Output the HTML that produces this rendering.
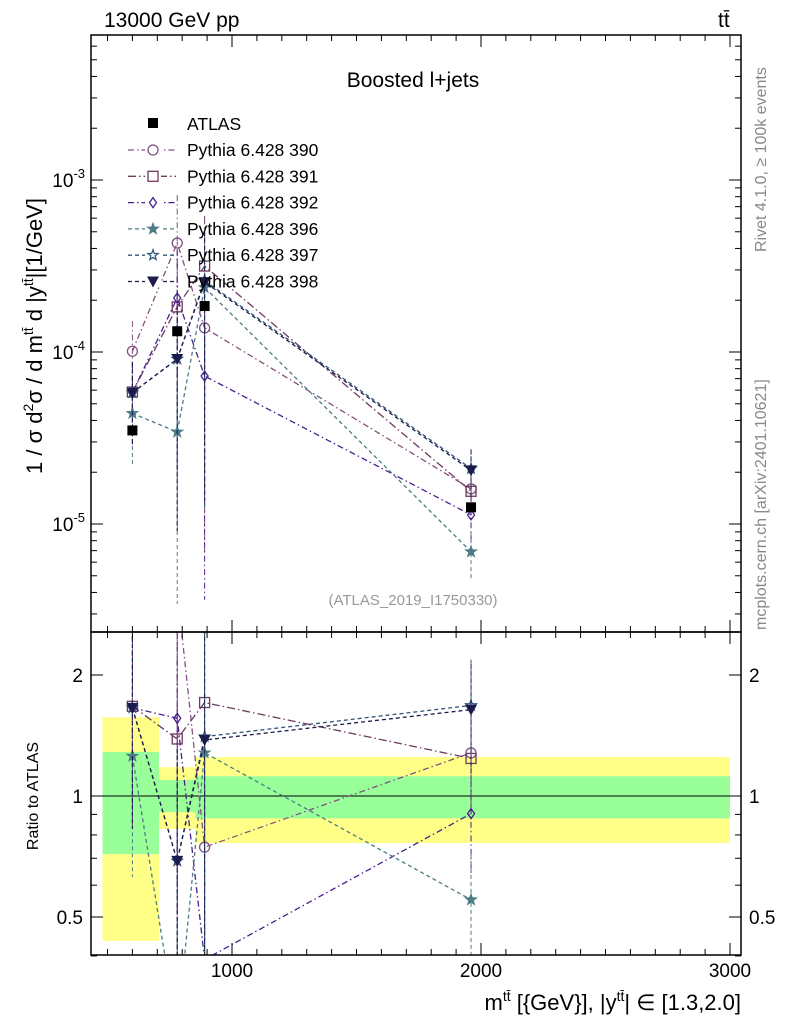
<!DOCTYPE html>
<html><head><meta charset="utf-8"><style>
html,body{margin:0;background:#fff;overflow:hidden;width:786px;height:1024px;}
svg{display:block;font-family:"Liberation Sans",sans-serif;}
</style></head><body>
<svg id="c" width="786" height="1024" viewBox="0 0 786 1024" xmlns="http://www.w3.org/2000/svg">
<g id="bands"></g>
<g id="ratio"></g>
<g id="main"></g>
<g id="axes"></g>
<text x="104" y="27" font-size="21">13000 GeV pp</text>
<text x="718" y="27" font-size="21">tt̄</text>
<text x="413" y="87" font-size="21" text-anchor="middle">Boosted l+jets</text>
<text x="413" y="605" font-size="15" fill="#999" text-anchor="middle">(ATLAS_2019_I1750330)</text>
<text transform="translate(766,252) rotate(-90)" font-size="16" fill="#888">Rivet 4.1.0, ≥ 100k events</text>
<text transform="translate(766,630) rotate(-90)" font-size="16" fill="#888">mcplots.cern.ch [arXiv:2401.10621]</text>
<text transform="translate(42,336) rotate(-90)" font-size="22" text-anchor="middle">1 / σ d<tspan font-size="14" dy="-9">2</tspan><tspan dy="9">σ / d m</tspan><tspan font-size="14" dy="-9">tt̄</tspan><tspan dy="9"> d |y</tspan><tspan font-size="14" dy="-9">tt̄</tspan><tspan dy="9">|[1/GeV]</tspan></text>
<text transform="translate(38,796) rotate(-90)" font-size="16" text-anchor="middle">Ratio to ATLAS</text>
<text x="741" y="1010" font-size="22" text-anchor="end">m<tspan font-size="14" dy="-9">tt̄</tspan><tspan dy="9"> [{GeV}], |y</tspan><tspan font-size="14" dy="-9">tt̄</tspan><tspan dy="9">| ∈ [1.3,2.0]</tspan></text>
</svg>
<script>
const xs=[600,780,890,1960];
const binLo=[480,707,852];
const binHi=[707,852,3000];
const atlas=[3.5e-5,1.32e-4,1.85e-4,1.25e-5];
const yellowUp=[1.57,1.18,1.25];
const yellowDn=[0.436,0.828,0.764];
const greenUp=[1.287,1.096,1.12];
const greenDn=[0.717,0.912,0.88];
const s390=[1.01e-4,4.3e-4,1.38e-4,1.6e-5];
const s391=[5.85e-5,1.83e-4,3.16e-4,1.55e-5];
const s392=[5.8e-5,2.06e-4,7.25e-5,1.13e-5];
const s396=[4.4e-5,3.43e-5,2.37e-4,6.9e-6];
const s397=[5.8e-5,9.1e-5,2.6e-4,2.1e-5];
const s398=[5.8e-5,9.1e-5,2.55e-4,2.05e-5];
const relErr=[0.5,0.9,0.95,0.3];
const names=["Pythia 6.428 390","Pythia 6.428 391","Pythia 6.428 392","Pythia 6.428 396","Pythia 6.428 397","Pythia 6.428 398"];
const series=[s390,s391,s392,s396,s397,s398];
const colors=["#83507f","#6e3a5e","#4a1f8c","#4c7c84","#2f5478","#1c1c4c"];
const dashes=["6,3,1.5,3","8,3,1.5,3","6,3,1.5,3","4,3","4,3","4,3"];
const markers=["circle","square","diamond","star","ostar","tri"];

const L=91,R=741,T=35,B=632,RT=632,RB=955;
const X=v=>232+(v-1000)*0.249;
const Y=v=>180-(Math.log10(v)+3)*172;
const YR=r=>796-Math.log2(r)*121;
const NS="http://www.w3.org/2000/svg";
function mk(tag,attrs,parent){const e=document.createElementNS(NS,tag);for(const k in attrs)e.setAttribute(k,attrs[k]);parent.appendChild(e);return e;}
const svg=document.getElementById('c');
const defs=mk('defs',{},svg);
const cp1=mk('clipPath',{id:'cm'},defs);mk('rect',{x:L,y:T,width:R-L,height:B-T},cp1);
const cp2=mk('clipPath',{id:'cr'},defs);mk('rect',{x:L,y:RT,width:R-L,height:RB-RT},cp2);
const bands=document.getElementById('bands');
for(let i=0;i<binLo.length;i++){
  const y=mk('rect',{x:X(binLo[i]),y:YR(yellowUp[i]),width:X(binHi[i])-X(binLo[i]),height:YR(yellowDn[i])-YR(yellowUp[i]),fill:'#ffff88'},bands);
  
  
  const g=mk('rect',{x:X(binLo[i]),y:YR(greenUp[i]),width:X(binHi[i])-X(binLo[i]),height:YR(greenDn[i])-YR(greenUp[i]),fill:'#99ff99'},bands);
  
  
}
function marker(type,x,y,col,parent){
  let e;const s=5;
  if(type==='circle')e=mk('circle',{cx:x,cy:y,r:s,fill:'none',stroke:col,'stroke-width':1.3},parent);
  else if(type==='square')e=mk('rect',{x:x-s,y:y-s,width:2*s,height:2*s,fill:'none',stroke:col,'stroke-width':1.3},parent);
  else if(type==='diamond')e=mk('polygon',{points:`${x},${y-s} ${x+3.5},${y} ${x},${y+s} ${x-3.5},${y}`,fill:'none',stroke:col,'stroke-width':1.3},parent);
  else if(type==='tri')e=mk('polygon',{points:`${x-6},${y-5} ${x+6},${y-5} ${x},${y+6}`,fill:col},parent);
  else {let p=[];for(let k=0;k<10;k++){const a=-Math.PI/2+k*Math.PI/5,r=k%2?2.2:5.5;p.push((x+r*Math.cos(a)).toFixed(1)+','+(y+r*Math.sin(a)).toFixed(1));}
    e=mk('polygon',{points:p.join(' '),fill:type==='star'?col:'none',stroke:col,'stroke-width':1.2},parent);}
  return e;
}
const main=document.getElementById('main');
const mg=mk('g',{'clip-path':'url(#cm)'},main);
const ratio=document.getElementById('ratio');
mk('line',{x1:L,x2:R,y1:YR(1),y2:YR(1),stroke:'#000','stroke-width':1},ratio);
const rg=mk('g',{'clip-path':'url(#cr)'},ratio);
series.forEach((s,si)=>{
  const col=colors[si];
  const pl=mk('polyline',{points:s.map((v,i)=>X(xs[i])+','+Y(v)).join(' '),fill:'none',stroke:col,'stroke-width':1.3,'stroke-dasharray':dashes[si]},mg);
  
  
  const rl=mk('polyline',{points:s.map((v,i)=>X(xs[i])+','+YR(v/atlas[i])).join(' '),fill:'none',stroke:col,'stroke-width':1.3,'stroke-dasharray':dashes[si]},rg);
  
  
  s.forEach((v,i)=>{
    const e=relErr[i];
    mk('line',{x1:X(xs[i]),x2:X(xs[i]),y1:Y(v*(1+e)),y2:Y(Math.max(v*(1-e),1e-7)),stroke:col,'stroke-width':1,'stroke-dasharray':dashes[si]},mg);
    mk('line',{x1:X(xs[i]),x2:X(xs[i]),y1:YR(v*(1+e)/atlas[i]),y2:YR(Math.max(v*(1-e),1e-7)/atlas[i]),stroke:col,'stroke-width':1,'stroke-dasharray':dashes[si]},rg);
    const m=marker(markers[si],X(xs[i]),Y(v),col,mg);
    
    
    const rm=marker(markers[si],X(xs[i]),YR(v/atlas[i]),col,rg);
    
    
  });
});
atlas.forEach((v,i)=>{
  const r=mk('rect',{x:X(xs[i])-5,y:Y(v)-5,width:10,height:10,fill:'#000'},mg);
  
  
});
const lg=mk('g',{},main);


mk('rect',{x:148,y:118,width:10,height:10,fill:'#000'},lg);
const at=mk('text',{x:187,y:130,'font-size':17.5},lg);at.textContent='ATLAS';
names.forEach((n,i)=>{
  const y=150+i*26.3;
  mk('line',{x1:128,x2:176,y1:y,y2:y,stroke:colors[i],'stroke-width':1.3,'stroke-dasharray':dashes[i]},lg);
  mk('rect',{x:145,y:y-6,width:16,height:12,fill:'#fff'},lg);
  marker(markers[i],153,y,colors[i],lg);
  const t=mk('text',{x:187,y:y+6,'font-size':17.5},lg);t.textContent=n;
  
  
});
const ax=document.getElementById('axes');
mk('rect',{x:L,y:T,width:R-L,height:B-T,fill:'none',stroke:'#000','stroke-width':1.5},ax);
mk('rect',{x:L,y:RT,width:R-L,height:RB-RT,fill:'none',stroke:'#000','stroke-width':1.5},ax);
for(let v=500;v<=3000;v+=100){
  const maj=v%1000===0,len=maj?12:6,x=X(v);
  [[T,1],[B,-1],[RT,1],[RB,-1]].forEach(([y,d])=>mk('line',{x1:x,x2:x,y1:y,y2:y+d*len,stroke:'#000','stroke-width':1},ax));
  if(maj){const t=mk('text',{x:x,y:977,'font-size':19,'text-anchor':'middle'},ax);t.textContent=v;
    }
}
for(let d=-6;d<=-3;d++)for(let k=1;k<10;k++){
  const v=k*Math.pow(10,d),y=Y(v);if(y<T||y>B)continue;
  const len=k===1?12:6;
  mk('line',{x1:L,x2:L+len,y1:y,y2:y,stroke:'#000'},ax);
  mk('line',{x1:R,x2:R-len,y1:y,y2:y,stroke:'#000'},ax);
  if(k===1){const t=mk('text',{x:L-6,y:y+7,'font-size':19,'text-anchor':'end'},ax);
    t.innerHTML='10<tspan font-size="13" dy="-9">'+d+'</tspan>';
    }
}
const rticks=[0.4,0.5,0.6,0.7,0.8,0.9,1,2];
rticks.forEach(v=>{const y=YR(v);const maj=[0.5,1,2].includes(v);const len=maj?12:6;
  mk('line',{x1:L,x2:L+len,y1:y,y2:y,stroke:'#000'},ax);mk('line',{x1:R,x2:R-len,y1:y,y2:y,stroke:'#000'},ax);
  if(maj){[[L-8,'end'],[R+8,'start']].forEach(([x,a])=>{const t=mk('text',{x:x,y:y+7,'font-size':19,'text-anchor':a},ax);t.textContent=v;
    });}
});
</script>
</body></html>
